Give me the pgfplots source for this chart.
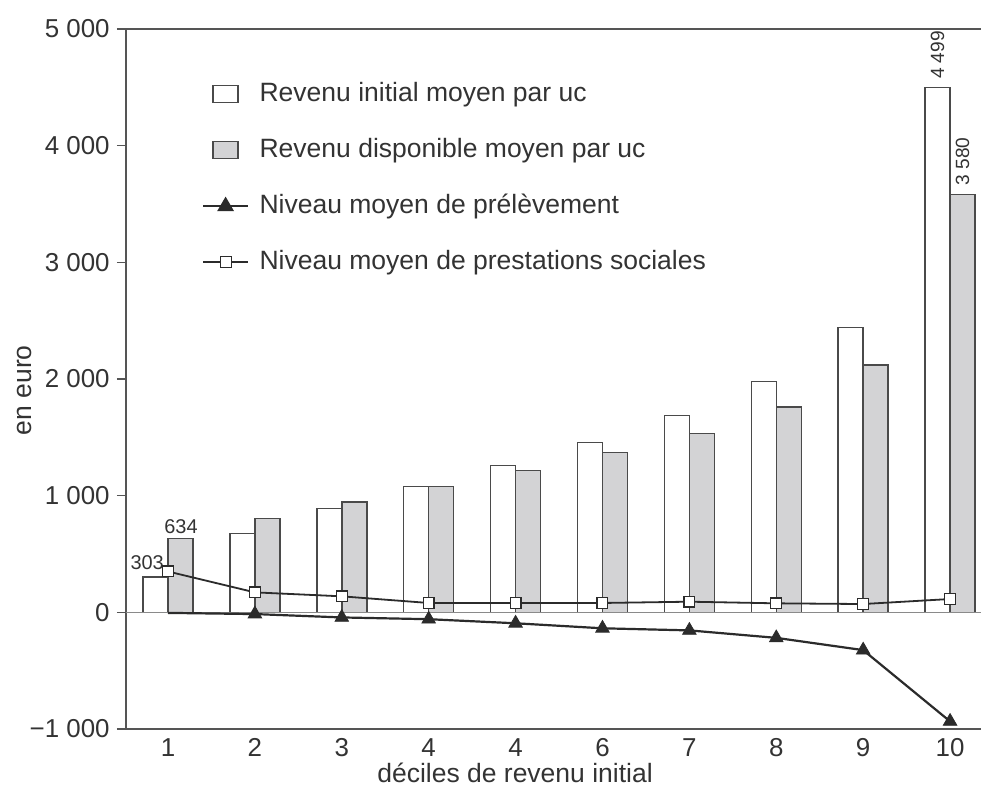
\documentclass[border=0pt]{standalone}
\usepackage{fontspec}
\setmainfont{Liberation Sans}
\usepackage{pgfplots}
\pgfplotsset{compat=1.18}
\definecolor{txt}{HTML}{333333}
\definecolor{axc}{HTML}{555555}
\definecolor{barline}{HTML}{4A4A4A}
\definecolor{barfill}{HTML}{D3D3D5}
\definecolor{ser}{HTML}{2B2B2B}
\definecolor{zero}{HTML}{8A8A8A}
\begin{document}
\begin{tikzpicture}
\begin{axis}[
  name=ax,
  scale only axis,
  width=427.5bp, height=350bp,
  xmin=0.5167, xmax=10.356,
  ymin=-1000, ymax=5000,
  axis lines*=left,
  axis line style={axc, line width=0.75bp},
  xtick={1,2,3,4,5,6,7,8,9,10},
  xticklabels={1,2,3,4,4,6,7,8,9,10},
  ytick={-1000,0,1000,2000,3000,4000,5000},
  yticklabels={−1 000,0,1 000,2 000,3 000,4 000,5 000},
  xtick style={draw=none},
  ytick style={axc, line width=0.75bp},
  tick align=outside,
  major tick length=4.5bp,
  tick label style={font=\fontsize{13}{15}\selectfont, text=txt},
  xticklabel style={inner sep=0pt, anchor=north, yshift=0bp},
  yticklabel style={inner sep=0pt, anchor=east, xshift=-3.5bp},
  xlabel={déciles de revenu initial},
  ylabel={en euro},
  label style={font=\fontsize{13.3}{16}\selectfont, text=txt, inner sep=0pt},
  xlabel style={at={(axis description cs:0.455,-0.0771)}, anchor=base},
  ylabel style={at={(axis description cs:-0.1099,0.484)}, anchor=south, rotate=0},
  legend style={draw=none, fill=none, inner sep=0pt, outer sep=0pt,
    at={(rel axis cs:0.0889,0.926)}, anchor=north west,
    row sep=14.6bp, column sep=5.2bp,
    font=\fontsize{13.3}{16}\selectfont, text=txt,
    nodes={inner sep=0pt, text height=10.4bp, text depth=3bp}},
  legend cell align=left,
  clip=false,
]
% Revenu initial moyen par uc
\addplot[ybar, bar width=12.5bp, bar shift=-6.25bp, draw=barline, line width=0.75bp, fill=white,
  legend image code/.code={\path[draw=none, fill=none] (0bp,0bp) -- (22.5bp,0bp);
    \draw[draw=barline, line width=0.75bp, fill=white] (5bp,-4.25bp) rectangle (17.5bp,4.25bp);}]
  coordinates {(1,303)(2,675)(3,891)(4,1077)(5,1259)(6,1456)(7,1686)(8,1977)(9,2442)(10,4499)};
\addlegendentry{Revenu initial moyen par uc}
% Revenu disponible moyen par uc
\addplot[ybar, bar width=12.5bp, bar shift=6.25bp, draw=barline, line width=0.75bp, fill=barfill,
  legend image code/.code={\path[draw=none, fill=none] (0bp,0bp) -- (22.5bp,0bp);
    \draw[draw=barline, line width=0.75bp, fill=barfill] (5bp,-4.25bp) rectangle (17.5bp,4.25bp);}]
  coordinates {(1,634)(2,803)(3,946)(4,1077)(5,1216)(6,1370)(7,1532)(8,1761)(9,2120)(10,3580)};
\addlegendentry{Revenu disponible moyen par uc}
% zero line
\draw[zero, line width=0.6bp] (axis cs:0.5167,0) -- (axis cs:10.356,0);
% Niveau moyen de prelevement
\addplot[ser, line width=1.1bp, mark=triangle*, mark size=3.9bp,
  mark options={solid, fill=ser, line width=0.4bp}, mark indices={2,3,4,5,6,7,8,9,10},
  legend image code/.code={\draw[ser, line width=1.1bp] (0bp,0bp) -- (22.5bp,0bp);
    \fill[ser] (8bp,-1.9bp) -- (14.5bp,-1.9bp) -- (11.25bp,3.7bp) -- cycle;}]
  coordinates {(1,-5)(2,-15)(3,-44)(4,-59)(5,-94)(6,-137)(7,-155)(8,-219)(9,-324)(10,-935)};
\addlegendentry{Niveau moyen de prélèvement}
% Niveau moyen de prestations sociales
\addplot[ser, line width=0.9bp, mark=square*, mark size=2.7bp,
  mark options={solid, fill=white, draw=ser, line width=0.6bp},
  legend image code/.code={\draw[ser, line width=0.9bp] (0bp,0bp) -- (22.5bp,0bp);
    \draw[ser, line width=0.6bp, fill=white] (8.5bp,-2.75bp) rectangle (14bp,2.75bp);}]
  coordinates {(1,350)(2,171)(3,137)(4,80)(5,80)(6,80)(7,91)(8,77)(9,71)(10,114)};
\addlegendentry{Niveau moyen de prestations sociales}
% top frame line
\draw[axc, line width=0.75bp] (rel axis cs:0,1) -- (rel axis cs:1,1);
% value labels
\node[anchor=south, inner sep=0pt, text=txt, font=\fontsize{10}{12}\selectfont] at (axis cs:0.76,363) {303};
\node[anchor=south, inner sep=0pt, text=txt, font=\fontsize{10}{12}\selectfont] at (axis cs:1.15,674) {634};
\node[rotate=90, anchor=west, inner sep=0pt, text=txt, font=\fontsize{9.6}{12}\selectfont] at (axis cs:9.856,4568) {4 499};
\node[rotate=90, anchor=west, inner sep=0pt, text=txt, font=\fontsize{9.6}{12}\selectfont] at (axis cs:10.144,3657) {3 580};
\end{axis}
\pgfresetboundingbox
\path[use as bounding box] ([xshift=-63bp,yshift=-30bp]ax.south west) rectangle ([yshift=14.5bp]ax.north east);
\end{tikzpicture}
\end{document}
